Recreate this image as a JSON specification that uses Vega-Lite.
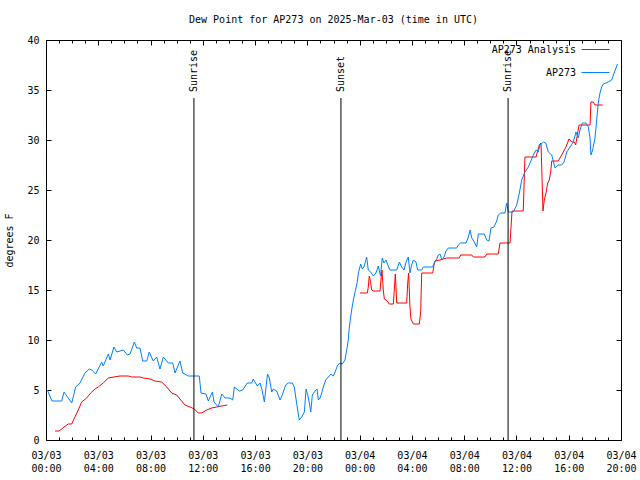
{
"$schema": "https://vega.github.io/schema/vega-lite/v6.json",
"width": 575, "height": 400,
"autosize": {"type": "none"},
"padding": {"left": 46, "top": 40, "right": 19, "bottom": 40},
"background": "white",
"title": {"text": "Dew Point for AP273 on 2025-Mar-03 (time in UTC)", "font": "DejaVu Sans Mono", "fontSize": 10, "fontWeight": "normal", "color": "black", "offset": 10},
"config": {
  "view": {"stroke": "black", "strokeWidth": 1},
  "font": "DejaVu Sans Mono",
  "axis": {"grid": false, "domain": false, "tickColor": "black", "tickWidth": 1, "labelColor": "black", "labelFont": "DejaVu Sans Mono", "labelFontSize": 10, "titleFont": "DejaVu Sans Mono", "titleFontSize": 10, "titleFontWeight": "normal", "titleColor": "black", "labelFlush": false, "labelOverlap": false, "labelBound": false}
},
"datasets": {
  "events": [
    {"event": "Sunrise", "hour": 11.32},
    {"event": "Sunset", "hour": 22.57},
    {"event": "Sunrise", "hour": 35.36}
  ],
  "red": [
    {"series":"AP273 Analysis","hour":0.69,"dewpoint":0.9},
    {"series":"AP273 Analysis","hour":0.99,"dewpoint":0.9},
    {"series":"AP273 Analysis","hour":1.20,"dewpoint":1.1},
    {"series":"AP273 Analysis","hour":1.38,"dewpoint":1.3},
    {"series":"AP273 Analysis","hour":1.71,"dewpoint":1.6},
    {"series":"AP273 Analysis","hour":1.97,"dewpoint":1.6},
    {"series":"AP273 Analysis","hour":2.14,"dewpoint":2.1},
    {"series":"AP273 Analysis","hour":2.40,"dewpoint":2.8},
    {"series":"AP273 Analysis","hour":2.73,"dewpoint":3.8},
    {"series":"AP273 Analysis","hour":3.11,"dewpoint":4.2},
    {"series":"AP273 Analysis","hour":3.42,"dewpoint":4.7},
    {"series":"AP273 Analysis","hour":3.75,"dewpoint":5.1},
    {"series":"AP273 Analysis","hour":4.00,"dewpoint":5.3},
    {"series":"AP273 Analysis","hour":4.38,"dewpoint":5.7},
    {"series":"AP273 Analysis","hour":4.77,"dewpoint":6.2},
    {"series":"AP273 Analysis","hour":5.20,"dewpoint":6.3},
    {"series":"AP273 Analysis","hour":5.66,"dewpoint":6.4},
    {"series":"AP273 Analysis","hour":6.30,"dewpoint":6.4},
    {"series":"AP273 Analysis","hour":6.56,"dewpoint":6.3},
    {"series":"AP273 Analysis","hour":7.19,"dewpoint":6.3},
    {"series":"AP273 Analysis","hour":7.45,"dewpoint":6.2},
    {"series":"AP273 Analysis","hour":7.96,"dewpoint":6.1},
    {"series":"AP273 Analysis","hour":8.34,"dewpoint":5.9},
    {"series":"AP273 Analysis","hour":8.85,"dewpoint":5.8},
    {"series":"AP273 Analysis","hour":9.24,"dewpoint":5.3},
    {"series":"AP273 Analysis","hour":9.62,"dewpoint":4.7},
    {"series":"AP273 Analysis","hour":10.00,"dewpoint":4.5},
    {"series":"AP273 Analysis","hour":10.25,"dewpoint":4.1},
    {"series":"AP273 Analysis","hour":10.64,"dewpoint":3.5},
    {"series":"AP273 Analysis","hour":11.02,"dewpoint":3.3},
    {"series":"AP273 Analysis","hour":11.35,"dewpoint":3.1},
    {"series":"AP273 Analysis","hour":11.65,"dewpoint":2.7},
    {"series":"AP273 Analysis","hour":11.91,"dewpoint":2.7},
    {"series":"AP273 Analysis","hour":12.30,"dewpoint":3.0},
    {"series":"AP273 Analysis","hour":12.68,"dewpoint":3.2},
    {"series":"AP273 Analysis","hour":13.06,"dewpoint":3.3},
    {"series":"AP273 Analysis","hour":13.45,"dewpoint":3.4},
    {"series":"AP273 Analysis","hour":13.87,"dewpoint":3.5},
    {"series":"AP273 Analysis","hour":18.00,"dewpoint":null},
    {"series":"AP273 Analysis","hour":24.03,"dewpoint":14.7},
    {"series":"AP273 Analysis","hour":24.59,"dewpoint":14.7},
    {"series":"AP273 Analysis","hour":24.66,"dewpoint":15.3},
    {"series":"AP273 Analysis","hour":24.74,"dewpoint":16.4},
    {"series":"AP273 Analysis","hour":24.85,"dewpoint":15.7},
    {"series":"AP273 Analysis","hour":24.92,"dewpoint":15.0},
    {"series":"AP273 Analysis","hour":25.05,"dewpoint":14.9},
    {"series":"AP273 Analysis","hour":25.56,"dewpoint":14.9},
    {"series":"AP273 Analysis","hour":25.63,"dewpoint":16.0},
    {"series":"AP273 Analysis","hour":25.71,"dewpoint":17.0},
    {"series":"AP273 Analysis","hour":25.81,"dewpoint":15.0},
    {"series":"AP273 Analysis","hour":25.89,"dewpoint":14.1},
    {"series":"AP273 Analysis","hour":26.12,"dewpoint":13.9},
    {"series":"AP273 Analysis","hour":26.27,"dewpoint":13.6},
    {"series":"AP273 Analysis","hour":26.58,"dewpoint":13.6},
    {"series":"AP273 Analysis","hour":26.65,"dewpoint":15.0},
    {"series":"AP273 Analysis","hour":26.73,"dewpoint":16.6},
    {"series":"AP273 Analysis","hour":26.84,"dewpoint":13.7},
    {"series":"AP273 Analysis","hour":27.60,"dewpoint":13.7},
    {"series":"AP273 Analysis","hour":27.68,"dewpoint":15.7},
    {"series":"AP273 Analysis","hour":27.75,"dewpoint":16.7},
    {"series":"AP273 Analysis","hour":27.85,"dewpoint":13.3},
    {"series":"AP273 Analysis","hour":27.93,"dewpoint":12.1},
    {"series":"AP273 Analysis","hour":28.11,"dewpoint":11.6},
    {"series":"AP273 Analysis","hour":28.57,"dewpoint":11.6},
    {"series":"AP273 Analysis","hour":28.67,"dewpoint":12.8},
    {"series":"AP273 Analysis","hour":28.75,"dewpoint":16.7},
    {"series":"AP273 Analysis","hour":29.59,"dewpoint":16.7},
    {"series":"AP273 Analysis","hour":29.69,"dewpoint":17.5},
    {"series":"AP273 Analysis","hour":29.77,"dewpoint":17.9},
    {"series":"AP273 Analysis","hour":30.15,"dewpoint":18.0},
    {"series":"AP273 Analysis","hour":30.66,"dewpoint":18.2},
    {"series":"AP273 Analysis","hour":31.63,"dewpoint":18.2},
    {"series":"AP273 Analysis","hour":31.73,"dewpoint":18.5},
    {"series":"AP273 Analysis","hour":32.58,"dewpoint":18.5},
    {"series":"AP273 Analysis","hour":32.70,"dewpoint":18.3},
    {"series":"AP273 Analysis","hour":33.59,"dewpoint":18.3},
    {"series":"AP273 Analysis","hour":33.72,"dewpoint":18.6},
    {"series":"AP273 Analysis","hour":34.61,"dewpoint":18.6},
    {"series":"AP273 Analysis","hour":34.74,"dewpoint":19.7},
    {"series":"AP273 Analysis","hour":35.51,"dewpoint":19.7},
    {"series":"AP273 Analysis","hour":35.66,"dewpoint":22.9},
    {"series":"AP273 Analysis","hour":36.52,"dewpoint":22.9},
    {"series":"AP273 Analysis","hour":36.65,"dewpoint":28.3},
    {"series":"AP273 Analysis","hour":37.50,"dewpoint":28.3},
    {"series":"AP273 Analysis","hour":37.60,"dewpoint":28.8},
    {"series":"AP273 Analysis","hour":37.75,"dewpoint":29.5},
    {"series":"AP273 Analysis","hour":37.88,"dewpoint":29.7},
    {"series":"AP273 Analysis","hour":38.03,"dewpoint":22.9},
    {"series":"AP273 Analysis","hour":38.13,"dewpoint":24.0},
    {"series":"AP273 Analysis","hour":38.26,"dewpoint":24.7},
    {"series":"AP273 Analysis","hour":38.39,"dewpoint":25.7},
    {"series":"AP273 Analysis","hour":38.51,"dewpoint":26.0},
    {"series":"AP273 Analysis","hour":38.62,"dewpoint":26.8},
    {"series":"AP273 Analysis","hour":38.70,"dewpoint":27.9},
    {"series":"AP273 Analysis","hour":39.20,"dewpoint":27.9},
    {"series":"AP273 Analysis","hour":39.46,"dewpoint":28.5},
    {"series":"AP273 Analysis","hour":39.79,"dewpoint":29.3},
    {"series":"AP273 Analysis","hour":40.02,"dewpoint":30.1},
    {"series":"AP273 Analysis","hour":40.23,"dewpoint":29.8},
    {"series":"AP273 Analysis","hour":40.43,"dewpoint":29.8},
    {"series":"AP273 Analysis","hour":40.53,"dewpoint":29.5},
    {"series":"AP273 Analysis","hour":40.79,"dewpoint":31.5},
    {"series":"AP273 Analysis","hour":41.63,"dewpoint":31.5},
    {"series":"AP273 Analysis","hour":41.70,"dewpoint":33.8},
    {"series":"AP273 Analysis","hour":41.88,"dewpoint":33.8},
    {"series":"AP273 Analysis","hour":42.01,"dewpoint":33.5},
    {"series":"AP273 Analysis","hour":42.60,"dewpoint":33.5}
  ],
  "blue": [
    {"series":"AP273","hour":0.10,"dewpoint":5.0},
    {"series":"AP273","hour":0.46,"dewpoint":3.9},
    {"series":"AP273","hour":1.20,"dewpoint":3.9},
    {"series":"AP273","hour":1.38,"dewpoint":4.8},
    {"series":"AP273","hour":1.97,"dewpoint":3.7},
    {"series":"AP273","hour":2.27,"dewpoint":5.3},
    {"series":"AP273","hour":2.60,"dewpoint":5.7},
    {"series":"AP273","hour":2.98,"dewpoint":6.7},
    {"series":"AP273","hour":3.31,"dewpoint":7.1},
    {"series":"AP273","hour":3.50,"dewpoint":7.0},
    {"series":"AP273","hour":3.80,"dewpoint":6.6},
    {"series":"AP273","hour":4.26,"dewpoint":7.8},
    {"series":"AP273","hour":4.38,"dewpoint":7.4},
    {"series":"AP273","hour":4.77,"dewpoint":8.6},
    {"series":"AP273","hour":4.90,"dewpoint":8.0},
    {"series":"AP273","hour":5.20,"dewpoint":9.3},
    {"series":"AP273","hour":5.41,"dewpoint":8.8},
    {"series":"AP273","hour":5.92,"dewpoint":9.0},
    {"series":"AP273","hour":6.22,"dewpoint":8.5},
    {"series":"AP273","hour":6.43,"dewpoint":8.6},
    {"series":"AP273","hour":6.76,"dewpoint":9.8},
    {"series":"AP273","hour":6.94,"dewpoint":9.2},
    {"series":"AP273","hour":7.19,"dewpoint":9.2},
    {"series":"AP273","hour":7.40,"dewpoint":7.9},
    {"series":"AP273","hour":7.71,"dewpoint":7.9},
    {"series":"AP273","hour":7.90,"dewpoint":8.8},
    {"series":"AP273","hour":8.21,"dewpoint":7.9},
    {"series":"AP273","hour":8.47,"dewpoint":8.3},
    {"series":"AP273","hour":8.72,"dewpoint":7.1},
    {"series":"AP273","hour":8.98,"dewpoint":8.3},
    {"series":"AP273","hour":9.36,"dewpoint":7.7},
    {"series":"AP273","hour":9.70,"dewpoint":7.7},
    {"series":"AP273","hour":9.87,"dewpoint":6.7},
    {"series":"AP273","hour":10.25,"dewpoint":7.9},
    {"series":"AP273","hour":10.46,"dewpoint":6.7},
    {"series":"AP273","hour":10.89,"dewpoint":6.4},
    {"series":"AP273","hour":11.73,"dewpoint":6.4},
    {"series":"AP273","hour":11.86,"dewpoint":4.7},
    {"series":"AP273","hour":12.24,"dewpoint":4.6},
    {"series":"AP273","hour":12.42,"dewpoint":3.9},
    {"series":"AP273","hour":12.73,"dewpoint":4.8},
    {"series":"AP273","hour":12.86,"dewpoint":3.8},
    {"series":"AP273","hour":13.18,"dewpoint":3.3},
    {"series":"AP273","hour":13.45,"dewpoint":4.6},
    {"series":"AP273","hour":13.70,"dewpoint":4.2},
    {"series":"AP273","hour":14.08,"dewpoint":4.2},
    {"series":"AP273","hour":14.29,"dewpoint":4.0},
    {"series":"AP273","hour":14.41,"dewpoint":5.3},
    {"series":"AP273","hour":14.79,"dewpoint":4.9},
    {"series":"AP273","hour":15.05,"dewpoint":5.0},
    {"series":"AP273","hour":15.40,"dewpoint":5.7},
    {"series":"AP273","hour":15.74,"dewpoint":5.7},
    {"series":"AP273","hour":15.86,"dewpoint":6.1},
    {"series":"AP273","hour":16.17,"dewpoint":5.4},
    {"series":"AP273","hour":16.38,"dewpoint":5.7},
    {"series":"AP273","hour":16.53,"dewpoint":5.0},
    {"series":"AP273","hour":16.71,"dewpoint":3.8},
    {"series":"AP273","hour":16.95,"dewpoint":6.6},
    {"series":"AP273","hour":17.09,"dewpoint":6.2},
    {"series":"AP273","hour":17.27,"dewpoint":4.8},
    {"series":"AP273","hour":17.39,"dewpoint":5.1},
    {"series":"AP273","hour":17.65,"dewpoint":4.9},
    {"series":"AP273","hour":17.91,"dewpoint":4.0},
    {"series":"AP273","hour":18.08,"dewpoint":4.5},
    {"series":"AP273","hour":18.34,"dewpoint":5.5},
    {"series":"AP273","hour":18.54,"dewpoint":5.7},
    {"series":"AP273","hour":18.85,"dewpoint":5.7},
    {"series":"AP273","hour":19.00,"dewpoint":5.3},
    {"series":"AP273","hour":19.11,"dewpoint":4.3},
    {"series":"AP273","hour":19.26,"dewpoint":3.0},
    {"series":"AP273","hour":19.38,"dewpoint":2.0},
    {"series":"AP273","hour":19.57,"dewpoint":2.3},
    {"series":"AP273","hour":19.77,"dewpoint":2.8},
    {"series":"AP273","hour":19.90,"dewpoint":5.1},
    {"series":"AP273","hour":20.03,"dewpoint":4.5},
    {"series":"AP273","hour":20.15,"dewpoint":3.7},
    {"series":"AP273","hour":20.26,"dewpoint":2.8},
    {"series":"AP273","hour":20.38,"dewpoint":4.5},
    {"series":"AP273","hour":20.53,"dewpoint":4.8},
    {"series":"AP273","hour":20.74,"dewpoint":5.1},
    {"series":"AP273","hour":20.84,"dewpoint":4.0},
    {"series":"AP273","hour":20.97,"dewpoint":4.2},
    {"series":"AP273","hour":21.10,"dewpoint":4.7},
    {"series":"AP273","hour":21.22,"dewpoint":5.3},
    {"series":"AP273","hour":21.40,"dewpoint":6.0},
    {"series":"AP273","hour":21.60,"dewpoint":6.3},
    {"series":"AP273","hour":21.81,"dewpoint":6.6},
    {"series":"AP273","hour":21.98,"dewpoint":6.4},
    {"series":"AP273","hour":22.12,"dewpoint":6.8},
    {"series":"AP273","hour":22.32,"dewpoint":7.5},
    {"series":"AP273","hour":22.52,"dewpoint":7.7},
    {"series":"AP273","hour":22.67,"dewpoint":7.6},
    {"series":"AP273","hour":22.88,"dewpoint":8.0},
    {"series":"AP273","hour":23.01,"dewpoint":9.0},
    {"series":"AP273","hour":23.13,"dewpoint":10.0},
    {"series":"AP273","hour":23.21,"dewpoint":11.3},
    {"series":"AP273","hour":23.39,"dewpoint":13.0},
    {"series":"AP273","hour":23.52,"dewpoint":14.0},
    {"series":"AP273","hour":23.65,"dewpoint":14.8},
    {"series":"AP273","hour":23.82,"dewpoint":15.8},
    {"series":"AP273","hour":23.90,"dewpoint":16.7},
    {"series":"AP273","hour":24.08,"dewpoint":17.6},
    {"series":"AP273","hour":24.20,"dewpoint":17.1},
    {"series":"AP273","hour":24.33,"dewpoint":17.3},
    {"series":"AP273","hour":24.54,"dewpoint":18.3},
    {"series":"AP273","hour":24.66,"dewpoint":17.0},
    {"series":"AP273","hour":24.85,"dewpoint":16.8},
    {"series":"AP273","hour":25.05,"dewpoint":16.4},
    {"series":"AP273","hour":25.25,"dewpoint":16.7},
    {"series":"AP273","hour":25.43,"dewpoint":17.4},
    {"series":"AP273","hour":25.60,"dewpoint":16.4},
    {"series":"AP273","hour":25.73,"dewpoint":18.2},
    {"series":"AP273","hour":25.86,"dewpoint":17.7},
    {"series":"AP273","hour":26.02,"dewpoint":18.0},
    {"series":"AP273","hour":26.19,"dewpoint":17.4},
    {"series":"AP273","hour":26.32,"dewpoint":17.0},
    {"series":"AP273","hour":26.84,"dewpoint":17.0},
    {"series":"AP273","hour":27.04,"dewpoint":17.8},
    {"series":"AP273","hour":27.22,"dewpoint":17.3},
    {"series":"AP273","hour":27.40,"dewpoint":17.0},
    {"series":"AP273","hour":27.55,"dewpoint":17.8},
    {"series":"AP273","hour":27.72,"dewpoint":18.3},
    {"series":"AP273","hour":27.85,"dewpoint":16.7},
    {"series":"AP273","hour":27.98,"dewpoint":17.5},
    {"series":"AP273","hour":28.11,"dewpoint":18.0},
    {"series":"AP273","hour":28.31,"dewpoint":17.8},
    {"series":"AP273","hour":28.44,"dewpoint":17.0},
    {"series":"AP273","hour":28.75,"dewpoint":17.0},
    {"series":"AP273","hour":28.87,"dewpoint":17.3},
    {"series":"AP273","hour":29.59,"dewpoint":17.3},
    {"series":"AP273","hour":29.77,"dewpoint":17.9},
    {"series":"AP273","hour":29.90,"dewpoint":18.1},
    {"series":"AP273","hour":30.02,"dewpoint":18.5},
    {"series":"AP273","hour":30.15,"dewpoint":18.6},
    {"series":"AP273","hour":30.30,"dewpoint":18.0},
    {"series":"AP273","hour":30.46,"dewpoint":18.3},
    {"series":"AP273","hour":30.61,"dewpoint":18.9},
    {"series":"AP273","hour":30.79,"dewpoint":19.2},
    {"series":"AP273","hour":31.43,"dewpoint":19.2},
    {"series":"AP273","hour":31.55,"dewpoint":19.5},
    {"series":"AP273","hour":31.73,"dewpoint":19.7},
    {"series":"AP273","hour":32.14,"dewpoint":19.7},
    {"series":"AP273","hour":32.32,"dewpoint":20.3},
    {"series":"AP273","hour":32.45,"dewpoint":21.0},
    {"series":"AP273","hour":32.58,"dewpoint":20.2},
    {"series":"AP273","hour":32.77,"dewpoint":19.8},
    {"series":"AP273","hour":32.96,"dewpoint":19.3},
    {"series":"AP273","hour":33.08,"dewpoint":20.6},
    {"series":"AP273","hour":33.54,"dewpoint":20.6},
    {"series":"AP273","hour":33.72,"dewpoint":20.0},
    {"series":"AP273","hour":33.90,"dewpoint":19.9},
    {"series":"AP273","hour":34.05,"dewpoint":21.2},
    {"series":"AP273","hour":34.28,"dewpoint":21.3},
    {"series":"AP273","hour":34.49,"dewpoint":21.9},
    {"series":"AP273","hour":34.61,"dewpoint":22.5},
    {"series":"AP273","hour":34.80,"dewpoint":22.7},
    {"series":"AP273","hour":35.12,"dewpoint":22.7},
    {"series":"AP273","hour":35.25,"dewpoint":23.7},
    {"series":"AP273","hour":35.38,"dewpoint":22.8},
    {"series":"AP273","hour":35.76,"dewpoint":22.8},
    {"series":"AP273","hour":36.02,"dewpoint":23.5},
    {"series":"AP273","hour":36.22,"dewpoint":24.7},
    {"series":"AP273","hour":36.40,"dewpoint":26.0},
    {"series":"AP273","hour":36.65,"dewpoint":26.8},
    {"series":"AP273","hour":36.91,"dewpoint":27.3},
    {"series":"AP273","hour":37.04,"dewpoint":27.7},
    {"series":"AP273","hour":37.29,"dewpoint":28.5},
    {"series":"AP273","hour":37.50,"dewpoint":29.0},
    {"series":"AP273","hour":37.67,"dewpoint":28.8},
    {"series":"AP273","hour":37.80,"dewpoint":29.5},
    {"series":"AP273","hour":38.06,"dewpoint":29.8},
    {"series":"AP273","hour":38.24,"dewpoint":29.7},
    {"series":"AP273","hour":38.44,"dewpoint":28.8},
    {"series":"AP273","hour":38.70,"dewpoint":28.5},
    {"series":"AP273","hour":38.95,"dewpoint":27.2},
    {"series":"AP273","hour":39.20,"dewpoint":27.5},
    {"series":"AP273","hour":39.46,"dewpoint":27.5},
    {"series":"AP273","hour":39.64,"dewpoint":27.8},
    {"series":"AP273","hour":39.85,"dewpoint":28.8},
    {"series":"AP273","hour":40.10,"dewpoint":29.3},
    {"series":"AP273","hour":40.35,"dewpoint":29.8},
    {"series":"AP273","hour":40.56,"dewpoint":30.8},
    {"series":"AP273","hour":40.73,"dewpoint":30.2},
    {"series":"AP273","hour":40.86,"dewpoint":31.0},
    {"series":"AP273","hour":41.04,"dewpoint":31.7},
    {"series":"AP273","hour":41.32,"dewpoint":31.7},
    {"series":"AP273","hour":41.50,"dewpoint":31.3},
    {"series":"AP273","hour":41.63,"dewpoint":30.2},
    {"series":"AP273","hour":41.70,"dewpoint":28.5},
    {"series":"AP273","hour":41.83,"dewpoint":29.0},
    {"series":"AP273","hour":42.01,"dewpoint":30.2},
    {"series":"AP273","hour":42.14,"dewpoint":32.0},
    {"series":"AP273","hour":42.26,"dewpoint":33.7},
    {"series":"AP273","hour":42.39,"dewpoint":34.7},
    {"series":"AP273","hour":42.52,"dewpoint":35.3},
    {"series":"AP273","hour":42.65,"dewpoint":35.6},
    {"series":"AP273","hour":43.03,"dewpoint":35.8},
    {"series":"AP273","hour":43.29,"dewpoint":36.0},
    {"series":"AP273","hour":43.50,"dewpoint":36.8},
    {"series":"AP273","hour":43.73,"dewpoint":37.6}
  ]
},
"layer": [
  {
    "data": {"name": "red"},
    "mark": {"type": "line", "strokeWidth": 1, "invalid": "break-paths-show-domains"},
    "encoding": {
      "x": {"field": "hour", "type": "quantitative", "scale": {"domain": [0, 44], "nice": false, "zero": false},
            "axis": {"orient": "bottom", "values": [0,4,8,12,16,20,24,28,32,36,40,44], "tickSize": -5, "labelPadding": 15, "title": null, "labelAlign": "center", "labelBaseline": "top", "labelLineHeight": 13,
                     "labelExpr": "[datum.value < 24 ? '03/03' : '03/04', (datum.value % 24 < 10 ? '0' : '') + (datum.value % 24) + ':00']"}},
      "y": {"field": "dewpoint", "type": "quantitative", "scale": {"domain": [0, 40], "nice": false},
            "axis": {"orient": "left", "values": [0,5,10,15,20,25,30,35,40], "tickSize": -5, "labelPadding": 12, "title": "degrees F", "titlePadding": 12}},
      "color": {"field": "series", "type": "nominal",
                "scale": {"domain": ["AP273 Analysis", "AP273"], "range": ["#ff0000", "#0080ff"]},
                "legend": {"orient": "none", "legendX": 535, "legendY": -5, "title": null, "symbolType": "stroke", "symbolSize": 784, "symbolStrokeWidth": 1, "labelAlign": "right", "labelOffset": -34, "labelFont": "DejaVu Sans Mono", "labelFontSize": 10, "labelColor": "black", "rowPadding": 3, "padding": 0}}
    }
  },
  {
    "data": {"name": "blue"},
    "mark": {"type": "line", "strokeWidth": 1},
    "encoding": {
      "x": {"field": "hour", "type": "quantitative",
            "axis": {"orient": "top", "values": [0,4,8,12,16,20,24,28,32,36,40,44], "tickSize": -5, "labels": false, "title": null}},
      "y": {"field": "dewpoint", "type": "quantitative",
            "axis": {"orient": "right", "values": [0,5,10,15,20,25,30,35,40], "tickSize": -5, "labels": false, "title": null}},
      "color": {"field": "series", "type": "nominal"}
    }
  },
  {
    "data": {"name": "events"},
    "mark": {"type": "rule", "color": "black", "strokeWidth": 1},
    "encoding": {
      "x": {"field": "hour", "type": "quantitative",
            "axis": {"orient": "bottom", "values": [1,2,3,5,6,7,9,10,11,13,14,15,17,18,19,21,22,23,25,26,27,29,30,31,33,34,35,37,38,39,41,42,43], "tickSize": -3, "labels": false, "title": null}},
      "y": {"datum": 0, "type": "quantitative", "axis": null},
      "y2": {"datum": 34.2}
    }
  },
  {
    "data": {"name": "events"},
    "mark": {"type": "text", "angle": 270, "align": "left", "baseline": "middle", "font": "DejaVu Sans Mono", "fontSize": 10, "color": "black"},
    "encoding": {
      "x": {"field": "hour", "type": "quantitative",
            "axis": {"orient": "top", "values": [1,2,3,5,6,7,9,10,11,13,14,15,17,18,19,21,22,23,25,26,27,29,30,31,33,34,35,37,38,39,41,42,43], "tickSize": -3, "labels": false, "title": null}},
      "y": {"datum": 34.8, "type": "quantitative", "axis": null},
      "text": {"field": "event"}
    }
  }
],
"resolve": {"axis": {"x": "independent", "y": "independent"}}
}
